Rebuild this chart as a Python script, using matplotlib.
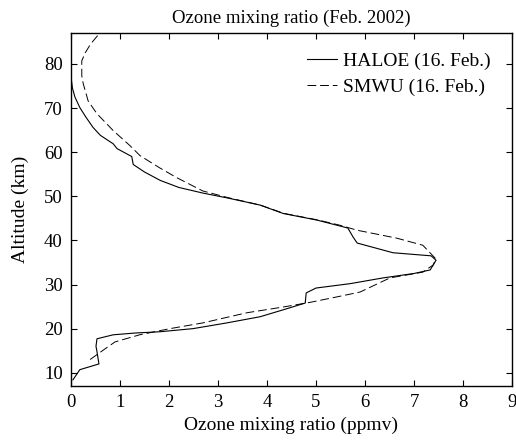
import matplotlib
matplotlib.use("Agg")
import matplotlib.pyplot as plt

# HALOE (solid) profile: ozone (ppmv) vs altitude (km)
haloe_ozone = [0.04, 0.18, 0.57, 0.53, 0.51, 0.53, 0.86, 1.30, 1.82, 2.49, 3.18, 3.86,
               4.40, 4.78, 4.80, 5.00, 5.70, 6.37, 7.00, 7.33, 7.45, 7.35, 6.57,
               5.84, 5.76, 5.65, 5.02, 4.33, 3.86, 3.20, 2.70, 2.20, 1.82, 1.50,
               1.27, 1.24, 0.94, 0.86, 0.60, 0.45, 0.30, 0.18, 0.08, 0.03, 0.0]
haloe_alt = [8.4, 10.7, 12.0, 14.8, 16.0, 17.7, 18.6, 19.0, 19.3, 20.0, 21.3, 22.7,
             24.5, 25.8, 28.1, 29.2, 30.2, 31.5, 32.5, 33.3, 35.5, 36.5, 37.2,
             39.4, 40.7, 42.8, 44.6, 46.1, 48.0, 49.6, 50.7, 52.0, 53.6, 55.5,
             57.2, 59.0, 60.8, 61.9, 63.8, 65.6, 68.0, 70.1, 72.5, 74.5, 77.0]

# SMWU (dashed) profile
smwu_ozone = [0.39, 0.73, 0.90, 1.40, 2.02, 2.69, 3.59, 4.33, 4.90, 5.43, 5.90, 6.51,
              7.18, 7.40, 7.43, 7.18, 6.65, 5.84, 5.50, 5.05, 4.35, 3.86, 3.20,
              2.69, 2.16, 1.80, 1.41, 1.20, 0.86, 0.53, 0.35, 0.25, 0.22, 0.22,
              0.29, 0.40, 0.55]
smwu_alt = [13.0, 15.7, 17.0, 18.6, 20.0, 21.3, 23.6, 24.9, 26.0, 27.2, 28.3, 31.5,
            32.8, 34.5, 36.0, 38.9, 40.5, 42.3, 43.4, 44.6, 46.1, 48.0, 49.7,
            51.2, 54.2, 56.5, 59.2, 61.5, 64.9, 68.7, 71.6, 75.5, 77.3, 80.7,
            82.5, 84.5, 86.5]

series_labels = ["HALOE (16. Feb.)", "SMWU (16. Feb.)"]
x_ticks = [0, 1, 2, 3, 4, 5, 6, 7, 8, 9]
y_ticks = [10, 20, 30, 40, 50, 60, 70, 80]

plt.rcParams['font.family'] = ['Liberation Serif', 'DejaVu Serif']

fig = plt.figure(figsize=(5.16, 4.47), dpi=100)
ax = fig.add_axes([71/516, 1 - 386/447, (512-71)/516, (386-33)/447])

ax.plot(haloe_ozone, haloe_alt, color='black', lw=0.8, label=series_labels[0])
ax.plot(smwu_ozone, smwu_alt, color='black', lw=0.7, dashes=(9, 4), label=series_labels[1])

ax.set_xlim(0, 9)
ax.set_ylim(7, 87)
ax.set_xticks(x_ticks)
ax.set_yticks(y_ticks)
ax.tick_params(direction='in', top=True, right=True, labelsize=13.5, length=4,
               width=0.8, pad=6)
for s in ax.spines.values():
    s.set_linewidth(1.0)

ax.set_xlabel("Ozone mixing ratio (ppmv)", fontsize=14)
ax.set_ylabel("Altitude (km)", fontsize=14)
ax.xaxis.set_label_coords(0.5, -(417 - 386) / 353)
ax.yaxis.set_label_coords(-(71 - 29) / 441, 0.5)
ax.set_title("Ozone mixing ratio (Feb. 2002)", fontsize=13.5, pad=7)

leg = ax.legend(loc='upper left', bbox_to_anchor=((307 - 71) / 441, (386 - 52) / 353),
                frameon=False, fontsize=14, handlelength=1.55,
                handletextpad=0.3, labelspacing=0.45, borderpad=0, borderaxespad=0)

fig.savefig("out.png", dpi=100)
